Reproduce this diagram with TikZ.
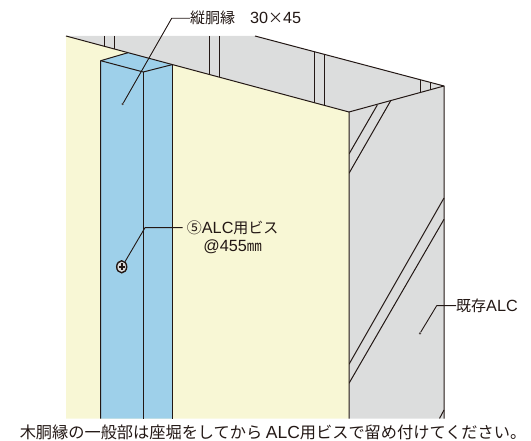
\documentclass[tikz,border=0pt]{standalone}
\usepackage{fontspec}
\setmainfont{Noto Sans CJK JP}
\newfontfamily\latinfont[Scale=1.08]{Liberation Sans}
\usepackage{xcolor}
\definecolor{alcgray}{HTML}{DCDDDD}
\definecolor{panelyellow}{HTML}{F8F7D5}
\definecolor{battenblue}{HTML}{9ED0EA}
\definecolor{inkline}{HTML}{231815}
\newcommand{\lat}[1]{{\latinfont #1}}
\tikzset{
    edge/.style={draw=inkline, line width=1pt, line join=round},
    leader/.style={draw=inkline, line width=0.9pt, line join=round},
    pin/.style={circle, fill=inkline!80, inner sep=0pt, minimum size=2.5pt},
    callout/.style={inner sep=0pt, text=inkline, font=\fontsize{15}{18}\selectfont},
}
\begin{document}
\begin{tikzpicture}[x=1pt,y=-1pt]
        \useasboundingbox (0,0) rectangle (531,441);

        %ALC
        \fill[alcgray] (66,36) -- (255,36) -- (444,86) -- (444,418.5) -- (349,418.5) -- (349,112) -- cycle;

        %FURRING SEEN BEHIND
        \draw[edge] (104.3,36) -- (104.3,46.2);
        \draw[edge] (114,36) -- (114,48.9);
        \draw[edge] (209.3,36) -- (209.3,74.5);
        \draw[edge] (219.3,36) -- (219.3,77.2);
        \draw[edge] (314.7,52) -- (314.7,102.9);
        \draw[edge] (324.3,54.5) -- (324.3,105.4);
        \draw[edge] (420,79.7) -- (420,92.6);
        \draw[edge] (430,82.3) -- (430,89.8);

        %DIAGONALS
        \draw[edge] (377.3,105) -- (349,154);
        \draw[edge] (390.7,100.7) -- (349,173.3);
        \draw[edge] (444,198) -- (349,364.3);
        \draw[edge] (444,219.3) -- (349,383.3);
        \draw[edge] (444,410) -- (439.5,418.5);

        %PANEL
        \fill[panelyellow] (66,36) -- (349,112) -- (349,418.5) -- (66,418.5) -- cycle;

        %BATTEN
        \fill[battenblue] (100.7,60.7) -- (128,52.7) -- (172.3,64.6) -- (172.3,418.5) -- (100.7,418.5) -- cycle;
        \draw[edge] (100.7,418.5) -- (100.7,60.7) -- (128,52.7);
        \draw[edge] (172.3,64.6) -- (143.3,72) -- (100.7,60.7);
        \draw[edge] (143.3,72) -- (143.3,418.5);
        \draw[edge] (172.3,64.6) -- (172.3,418.5);

        %OUTLINES
        \draw[edge] (66,36) -- (349,112) -- (349,418.5);
        \draw[edge] (255,36) -- (444,86) -- (444,418.5);
        \draw[edge] (349,112) -- (444,86);

        %SCREW
        \draw[draw=inkline, fill=alcgray, line width=1.4pt] (121.7,266.8) ellipse (5 and 6);
        \draw[inkline, line width=1.6pt] (118.8,266.8) -- (124.6,266.8) (121.7,263.4) -- (121.7,270.2);

        %LABELS
        \node[callout, anchor=west] (battenlabel) at (190,18.3) {縦胴縁\hspace{1em}\lat{30}×\lat{45}};
        \node[callout, align=center, anchor=north] (screwlabel) at (232.7,221) {⑤\lat{ALC}用ビス\\\lat{@455}㎜};
        \node[callout, anchor=west] (alclabel) at (456,305.7) {既存\lat{ALC}};
        \node[inner sep=0pt, text=inkline, font=\fontsize{16.2}{19}\selectfont] (caption) at (273,432.5) {木胴縁の一般部は座堀をしてから \lat{ALC}用ビスで留め付けてください。};

        %LEADERS
        \node[pin] (battendot) at (122.7,104) {};
        \node[pin] (alcdot) at (420,333.3) {};
        \coordinate (screwend) at (125,261.7);
        \coordinate (screwtail) at (182.7,227.7);
        \draw[leader] (battendot) -- (171.7,18.3) -- (battenlabel.west);
        \draw[leader] (screwend) -- (145,227.7) -- (screwtail);
        \draw[leader] (alcdot) -- (436.7,305.7) -- (alclabel.west);
    \end{tikzpicture}
\end{document}
